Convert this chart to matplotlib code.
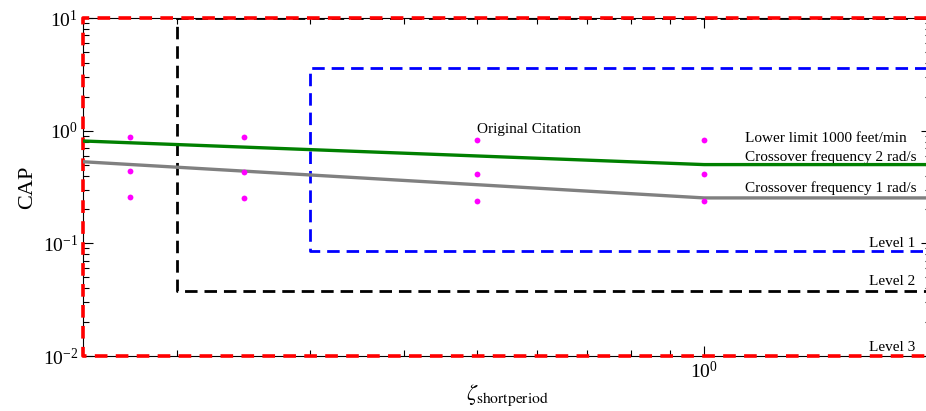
import matplotlib
matplotlib.use('Agg')
import matplotlib.pyplot as plt

plt.rcParams['font.family'] = ['Liberation Serif', 'DejaVu Serif']
plt.rcParams['mathtext.fontset'] = 'stix'

# crossover frequency boundaries
zeta_line = [0.15, 1.0, 2.0]
cap_w2 = [0.81, 0.50, 0.50]
cap_w1 = [0.53, 0.253, 0.253]

# flying quality level boxes (zeta range, CAP range)
level1_zeta = [0.3, 2.0]
level1_cap = [0.085, 3.6]
level2_zeta = [0.2, 2.0]
level2_cap = [0.038, 10.0]
level3_zeta = [0.15, 2.0]
level3_cap = [0.01, 10.0]

# test points
pts_zeta = [0.173, 0.173, 0.173, 0.245, 0.245, 0.245, 0.5, 0.5, 0.5, 1.0, 1.0, 1.0]
pts_cap = [0.88, 0.44, 0.26, 0.87, 0.43, 0.255, 0.83, 0.41, 0.24, 0.82, 0.41, 0.24]

fig = plt.figure(figsize=(9.26, 4.11), dpi=100)
ax = fig.add_axes([0.0896, 0.1338, 0.9158, 0.8224])


def box(zr, cr, color, lw, dash, clip=True):
    ax.plot([zr[1], zr[0], zr[0], zr[1]], [cr[1], cr[1], cr[0], cr[0]],
            color=color, lw=lw, linestyle=(0, dash), zorder=3, clip_on=clip)


box(level1_zeta, level1_cap, 'blue', 2.0, (4.5, 2.5))
box(level2_zeta, level2_cap, 'black', 2.0, (4.5, 2.5))
box(level3_zeta, level3_cap, 'red', 2.6, (3.5, 2.3), clip=False)

ax.plot(zeta_line, cap_w2, color='green', lw=2.4, zorder=4)
ax.plot(zeta_line, cap_w1, color='gray', lw=2.4, zorder=4)
ax.plot(pts_zeta, pts_cap, 'o', color='magenta', markersize=4.2,
        markeredgewidth=0, zorder=5)

ax.set_xscale('log')
ax.set_yscale('log')
ax.set_xlim(0.15, 2.0)
ax.set_ylim(0.01, 10)

ax.text(0.5, 1.03, 'Original Citation', fontsize=11, va='center', ha='left')
ax.text(1.133, 0.86, 'Lower limit 1000 feet/min', fontsize=11, va='center')
ax.text(1.133, 0.585, 'Crossover frequency 2 rad/s', fontsize=11, va='center')
ax.text(1.133, 0.31, 'Crossover frequency 1 rad/s', fontsize=11, va='center')
ax.text(1.905, 0.099, 'Level 1', fontsize=11, va='center', ha='right')
ax.text(1.905, 0.0454, 'Level 2', fontsize=11, va='center', ha='right')
ax.text(1.905, 0.0120, 'Level 3', fontsize=11, va='center', ha='right')

ax.set_xlabel(r'$\zeta_{\mathrm{shortperiod}}$', fontsize=16, labelpad=0)
ax.set_ylabel('CAP', fontsize=16, labelpad=4)

ax.tick_params(which='both', direction='in', top=True, right=True,
               labelsize=14, width=0.8)
ax.tick_params(which='major', length=7)
ax.tick_params(which='minor', length=4)
ax.xaxis.set_minor_formatter(matplotlib.ticker.NullFormatter())
for s in ax.spines.values():
    s.set_linewidth(0.8)

fig.savefig('out.png', dpi=100)
